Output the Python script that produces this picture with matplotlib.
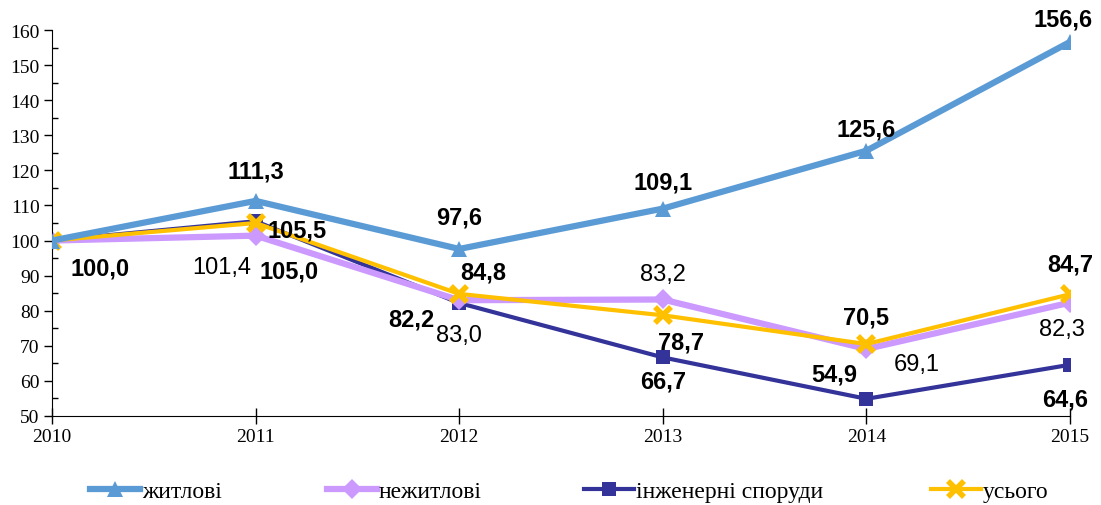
import matplotlib
matplotlib.use("Agg")
import matplotlib.pyplot as plt
from matplotlib.ticker import MultipleLocator

years = [2010, 2011, 2012, 2013, 2014, 2015]
names = ["житлові", "нежитлові", "інженерні споруди", "усього"]
zhytlovi = [100.0, 111.3, 97.6, 109.1, 125.6, 156.6]
nezhytlovi = [100.0, 101.4, 83.0, 83.2, 69.1, 82.3]
inzhenerni = [100.0, 105.5, 82.2, 66.7, 54.9, 64.6]
usogo = [100.0, 105.0, 84.8, 78.7, 70.5, 84.7]

colors = ["#5B9BD5", "#CC99FF", "#333399", "#FFC000"]

fig = plt.figure(figsize=(11.01, 5.06), dpi=100)
ax = fig.add_axes([52/1101, 1-417/506, (1070-52)/1101, (417-31)/506])

styles = [
    dict(marker="^", lw=4.5, ms=12, mew=0),
    dict(marker="D", lw=4.5, ms=10, mew=0),
    dict(marker="s", lw=3.0, ms=10, mew=0),
    dict(marker="x", lw=3.0, ms=11, mew=4),
]
series = [zhytlovi, nezhytlovi, inzhenerni, usogo]
lines = []
for s, c, st, n in zip(series, colors, styles, names):
    l, = ax.plot(years, s, color=c, marker=st["marker"], lw=st["lw"], ms=st["ms"],
                 mew=st["mew"], mec=c, mfc=c, label=n, solid_joinstyle="miter")
    lines.append(l)
lines[2].set_zorder(2); lines[3].set_zorder(3); lines[1].set_zorder(2.5); lines[0].set_zorder(4)

ax.set_xlim(2010, 2015)
ax.set_ylim(50, 160)
ax.yaxis.set_major_locator(MultipleLocator(10))
ax.yaxis.set_minor_locator(MultipleLocator(5))
ax.set_xticks(years)
for sp in ["top", "right"]:
    ax.spines[sp].set_visible(False)
ax.tick_params(axis="y", which="major", direction="out", length=6, width=1)
ax.tick_params(axis="y", which="minor", direction="in", length=4, width=1)
ax.tick_params(axis="x", which="major", direction="inout", length=12, width=1)
for lab in ax.get_yticklabels() + ax.get_xticklabels():
    lab.set_fontfamily("Liberation Serif")
    lab.set_fontsize(14)
ax.tick_params(axis="x", pad=3)
ax.tick_params(axis="y", pad=3)

def fmt(v):
    return f"{v:.1f}".replace(".", ",")

offs = {
    0: [(48, -27), (0, 30), (0, 32), (0, 27), (0, 22), (-7, 23)],
    1: [None, (-34, -31), (0, -35), (0, 25), (50, -15), (-8, -26)],
    2: [None, (41, -9), (-48, -16), (0, -24), (-32, 25), (-5, -34)],
    3: [None, (33, -48), (24, 22), (18, -27), (0, 27), (0, 30)],
}
for i, s in enumerate(series):
    for j, (x, v) in enumerate(zip(years, s)):
        o = offs[i][j]
        if o is None:
            continue
        ax.annotate(fmt(v), (x, v), xytext=(o[0]*0.72, o[1]*0.72), textcoords="offset points",
                    ha="center", va="center", fontsize=17, family="Liberation Sans",
                    fontweight="normal" if i == 1 else "bold", zorder=6,
                    annotation_clip=False)

lx = [90, 327, 584, 931]
for l, x in zip(lines, lx):
    fig.legend(handles=[l], loc="center left", bbox_to_anchor=(x/1101, 1-492/506),
               frameon=False, prop=dict(family="Liberation Serif", size=17),
               handlelength=2.1, handletextpad=0.1, borderaxespad=0, borderpad=0)

fig.savefig("out.png", dpi=100)
